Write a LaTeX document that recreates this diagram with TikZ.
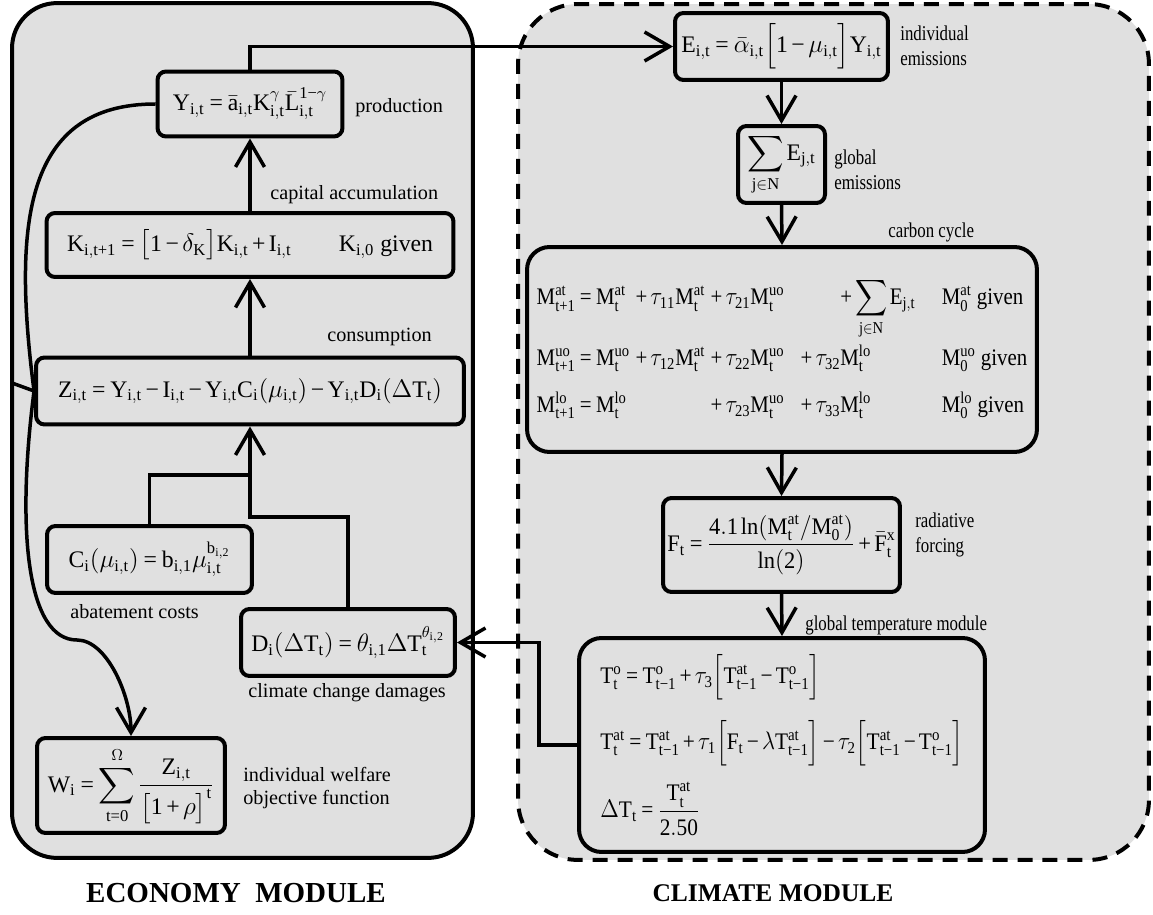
\documentclass[tikz,border=0pt]{standalone}
\usepackage{amsmath}
\usepackage{graphicx}
\usepackage[no-math]{fontspec}
\setmainfont{Liberation Serif}
\newfontfamily\eqfamily[NFSSFamily=libser]{Liberation Serif}
\newfontfamily\narrowfont[FakeStretch=0.8]{Liberation Serif}
% upright serif letters, digits and signs in formulas
\DeclareSymbolFont{uprm}{TU}{libser}{m}{n}
\newcount\lettercode
\lettercode=65
\loop
  \mathcode\lettercode=\numexpr\symuprm*256+\lettercode\relax
  \mathcode\numexpr\lettercode+32\relax=\numexpr\symuprm*256+\lettercode+32\relax
  \advance\lettercode by 1
\ifnum\lettercode<91 \repeat
\lettercode=48
\loop
  \mathcode\lettercode=\numexpr\symuprm*256+\lettercode\relax
  \advance\lettercode by 1
\ifnum\lettercode<58 \repeat
\Umathcode 43 = 2 \numexpr\symuprm\relax "2B
\Umathcode 45 = 2 \numexpr\symuprm\relax "2212
\Umathcode 61 = 3 \numexpr\symuprm\relax "3D
\newcommand{\tightmath}{\medmuskip=2.5mu\thickmuskip=3.5mu\thinmuskip=2mu}
\usetikzlibrary{arrows.meta}
\definecolor{modfill}{HTML}{E0E0E0}
\tikzset{
  eqbox/.style={draw, line width=0.08cm, rounded corners=0.17cm, inner sep=0pt, font=\fontsize{13.5}{16}\selectfont\tightmath},
  bigbox/.style={eqbox, rounded corners=0.45cm},
  lbl/.style={anchor=west, inner sep=0pt, align=left, font=\fontsize{11.5}{13.5}\selectfont},
  nlbl/.style={lbl, font=\fontsize{12}{14}\narrowfont},
  wire/.style={line width=0.07cm},
  flow/.style={wire, -{Straight Barb[length=0.5cm, width=0.58cm]}},
  module/.style={draw, line width=0.08cm, fill=modfill, inner sep=0pt},
  title/.style={font=\fontsize{16.5}{19}\selectfont\bfseries}
}

\begin{document}
\begin{tikzpicture}[x=0.02cm, y=0.02cm]
			\useasboundingbox (0,0) rectangle (1153,914);
			
			% Module frames
			\node[module, rounded corners=0.9cm, minimum width=9.22cm, minimum height=17.1cm] (econ) at (242.5,483.5) {};
			\node[module, dashed, dash pattern=on 0.3cm off 0.2cm, rounded corners=1.2cm, minimum width=12.62cm, minimum height=17.12cm] (clim) at (833.5,482) {};
			
			% Economy module
			\node[eqbox, minimum width=3.7cm, minimum height=1.3cm] (Y) at (250,810) {$Y_{i,t} = \bar{a}_{i,t}K^{\gamma}_{i,t}\bar{L}^{1-\gamma}_{i,t}$};
			\node[eqbox, minimum width=8.14cm, minimum height=1.28cm] (K) at (250,669) {$K_{i,t+1} = \big[1-\delta_{K}\big]K_{i,t} + I_{i,t}\qquad K_{i,0}$~given};
			\node[eqbox, minimum width=8.56cm, minimum height=1.34cm] (Z) at (250,523) {$Z_{i,t} = Y_{i,t} - I_{i,t} - Y_{i,t}C_{i}(\mu_{i,t}) - Y_{i,t}D_{i}(\Delta T_{t})$};
			\node[eqbox, minimum width=4.1cm, minimum height=1.34cm] (C) at (149.5,354.5) {$C_{i}(\mu_{i,t}) = b_{i,1}\mu_{i,t}^{b_{i,2}}$};
			\node[eqbox, minimum width=4.28cm, minimum height=1.34cm] (D) at (348,271.5) {$D_{i}(\Delta T_{t}) = \theta_{i,1}\Delta T_{t}^{\theta_{i,2}}$};
			\node[eqbox, minimum width=3.76cm, minimum height=1.9cm] (W) at (131,128.5) {$\displaystyle W_{i} = \sum_{t=0}^{\Omega}\frac{Z_{i,t}}{\big[1+\rho\big]^{t}}$};
			
			% Climate module
			\node[eqbox, minimum width=4.26cm, minimum height=1.34cm] (E) at (781.5,867.5) {$E_{i,t} = \bar{\alpha}_{i,t}\Big[1-\mu_{i,t}\Big]Y_{i,t}$};
			\node[eqbox, minimum width=1.74cm, minimum height=1.54cm] (S) at (781.5,749.5) {$\displaystyle\sum_{j\in N}E_{j,t}$};
			\node[bigbox, minimum width=10.2cm, minimum height=4.1cm] (M) at (782,564.5) {\scalebox{0.88}[1]{$\begin{array}{@{}l@{\,}l@{\,}l@{\hspace{0.3cm}}l@{\hspace{0.6cm}}l@{}}
				M^{at}_{t+1} = M^{at}_{t} & {}+\tau_{11}M^{at}_{t} & {}+\tau_{21}M^{uo}_{t} & \displaystyle\hspace{0.9cm}{}+\sum_{j\in N}E_{j,t} & M^{at}_{0}\ \text{given}\\[18pt]
				M^{uo}_{t+1} = M^{uo}_{t} & {}+\tau_{12}M^{at}_{t} & {}+\tau_{22}M^{uo}_{t} & {}+\tau_{32}M^{lo}_{t} & M^{uo}_{0}\ \text{given}\\[10pt]
				M^{lo}_{t+1} = M^{lo}_{t} & & {}+\tau_{23}M^{uo}_{t} & {}+\tau_{33}M^{lo}_{t} & M^{lo}_{0}\ \text{given}
			\end{array}$}};
			\node[eqbox, minimum width=4.74cm, minimum height=1.88cm] (F) at (781.5,369) {\scalebox{0.95}[1]{$\displaystyle F_{t} = \frac{4.1\ln(M^{at}_{t}/M^{at}_{0})}{\ln(2)} + \bar{F}^{x}_{t}$}};
			\node[bigbox, minimum width=8.12cm, minimum height=4.28cm] (T) at (782,169) {\scalebox{0.9}[1]{$\begin{array}{@{}l@{}}
				T^{o}_{t} = T^{o}_{t-1} + \tau_{3}\Big[T^{at}_{t-1} - T^{o}_{t-1}\Big]\\[16pt]
				T^{at}_{t} = T^{at}_{t-1} + \tau_{1}\Big[F_{t} - \lambda T^{at}_{t-1}\Big] - \tau_{2}\Big[T^{at}_{t-1} - T^{o}_{t-1}\Big]\\[14pt]
				\Delta T_{t} = \dfrac{T^{at}_{t}}{2.50}
			\end{array}$}};
			
			% Labels
			\node[lbl] (lprod) at (355,806) {production};
			\node[lbl] (lcap) at (270,719) {capital accumulation};
			\node[lbl] (lcons) at (327,577) {consumption};
			\node[lbl] (labat) at (70,302) {abatement costs};
			\node[lbl] (ldam) at (248,221) {climate change damages};
			\node[lbl] (lwel) at (243,126) {individual welfare\\objective function};
			\node[nlbl] (lind) at (900,868) {individual\\emissions};
			\node[nlbl] (lglob) at (834,744) {global\\emissions};
			\node[nlbl] (lcarb) at (888,682) {carbon cycle};
			\node[nlbl] (lrad) at (915,379) {radiative\\forcing};
			\node[nlbl] (ltemp) at (805,289) {global temperature module};
			\node[title] (teco) at (236,21) {ECONOMY\ \ MODULE};
			\node[title, font=\fontsize{14.5}{17}\selectfont\bfseries] (tclim) at (773,21) {CLIMATE\ MODULE};
			
			% Free ends and bends
			\coordinate (cjoin) at (250,439);
			\coordinate (djoin) at (250,397);
			\coordinate (zin) at (12,531);
			\coordinate (wbend) at (77,274);
			
			% Economy flows
			\draw[flow] (K.north) -- (Y.south);
			\draw[flow] (Z.north) -- (K.south);
			\draw[wire] (C.north) |- (cjoin);
			\draw[flow] (D.north) |- (djoin) -- (Z.south);
			\draw[wire] (zin) -- (Z.west);
			\draw[wire] (Y.west) .. controls +(-130,0) and +(-22,170) .. (Z.west);
			\draw[flow] (Z.west) .. controls +(-18,-140) and +(-50,0) .. (wbend) .. controls +(30,0) and +(0,40) .. (W.north);
			
			% Climate flows
			\draw[flow] (Y.north) |- (E.west);
			\draw[flow] (E.south) -- (S.north);
			\draw[flow] (S.south) -- (M.north);
			\draw[flow] (M.south) -- (F.north);
			\draw[flow] (F.south) -- (T.north);
			\draw[flow] (T.west) -- ++(-38,0) |- (D.east);
		\end{tikzpicture}
\end{document}
